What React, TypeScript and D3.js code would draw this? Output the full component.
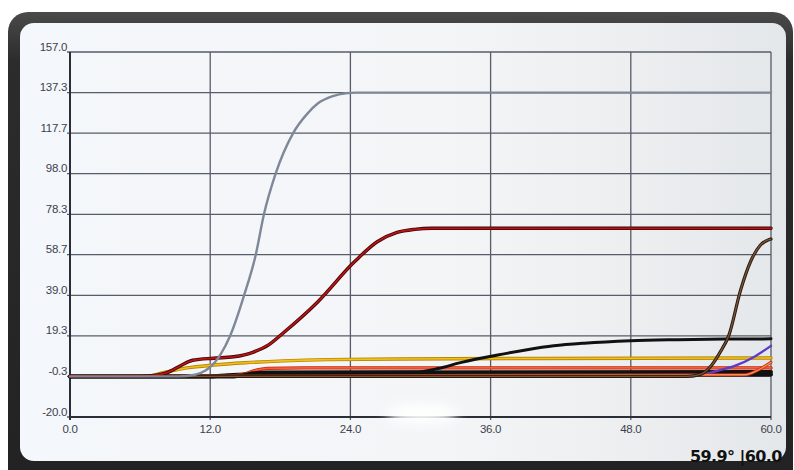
import React from "react";
import * as d3 from "d3";

const xTicks = [0, 12, 24, 36, 48, 60];
const xTickLabels = ["0.0", "12.0", "24.0", "36.0", "48.0", "60.0"];
const yTicks = [-20.0, -0.3, 19.3, 39.0, 58.7, 78.3, 98.0, 117.7, 137.3, 157.0];
const yTickLabels = ["-20.0", "-0.3", "19.3", "39.0", "58.7", "78.3", "98.0", "117.7", "137.3", "157.0"];

const graySeries: [number, number][] = [
  [0, -0.3], [9.3, -0.3], [10.7, 0.5], [11.6, 2.5], [12.4, 6.5], [12.9, 10.5], [13.7, 19.3], [14.9, 39],
  [15.9, 58.7], [16.6, 78.3], [17.6, 98], [19.1, 117.7], [20.3, 127], [21.2, 132], [22.5, 135.6],
  [23.6, 137], [24.5, 137.3], [60, 137.3],
];
const redSeries: [number, number][] = [
  [0, -0.3], [6, -0.3], [7, 0], [8.3, 1.5], [9.5, 5], [10.5, 7.5], [12.3, 8.5], [14, 9.2],
  [15.7, 11.5], [17, 15], [18.3, 21], [21.2, 35.8], [24.3, 55], [26.3, 65], [28, 69.5],
  [29.5, 71], [31, 71.5], [60, 71.5],
];
const yellowSeries: [number, number][] = [
  [0, -0.3], [6.5, -0.3], [8, 1.5], [10, 3.8], [12.3, 5.2], [15, 6.3], [18.3, 7.2], [22, 7.8],
  [28, 8.1], [40, 8.4], [60, 8.6],
];
const orangeSeries: [number, number][] = [
  [0, -0.3], [13.5, -0.3], [14.8, 0.6], [15.8, 2.5], [16.9, 3.6], [20, 3.8], [60, 3.8],
];
const blackFlatA: [number, number][] = [
  [0, -0.3], [12, -0.3], [13.5, 0.3], [15, 0.6], [60, 0.6],
];
const blackFlatB: [number, number][] = [
  [0, -0.3], [14, -0.3], [16, 1.6], [60, 1.8],
];
const blackRise: [number, number][] = [
  [0, -0.3], [14, -0.3], [16, 1.6], [29.5, 1.8], [31.5, 3.5], [33.5, 6.5], [36.6, 10.1], [39, 12.5],
  [41.4, 14.5], [44, 15.8], [48, 17], [52, 17.5], [56, 17.8], [60, 17.9],
];
const brownSeries: [number, number][] = [
  [0, -0.3], [52.8, -0.3], [54, 0.8], [54.9, 5], [55.6, 11], [56.4, 19.7], [57.4, 41.6],
  [58.3, 56], [59.1, 63.4], [59.8, 66], [60, 66.3],
];
const purpleSeries: [number, number][] = [
  [0, -0.3], [53, -0.3], [54.3, 0.8], [55.5, 2.5], [57, 5], [58.5, 9], [60, 14.5],
];
const orangeEndSeries: [number, number][] = [
  [0, -0.3], [57.8, 0.5], [58.8, 2.5], [60, 6.5],
];

const W = 794;
const H = 470;

export default function App() {
  const x = d3.scaleLinear().domain([0, 60]).range([70, 771]);
  const y = d3.scaleLinear().domain([-20, 157]).range([417, 52]);
  const line = d3
    .line<[number, number]>()
    .x((d) => x(d[0]))
    .y((d) => y(d[1]))
    .curve(d3.curveMonotoneX);

  const lines: { data: [number, number][]; under?: string; color: string; w: number; uw?: number }[] = [
    { data: blackFlatA, color: "#111", w: 4 },
    { data: blackFlatB, color: "#111", w: 4 },
    { data: orangeSeries, under: "#b82a10", color: "#ff5a30", w: 1.6, uw: 3.4 },
    { data: yellowSeries, under: "#b98600", color: "#f2c21c", w: 1.6, uw: 3.4 },
    { data: blackRise, color: "#111", w: 3 },
    { data: purpleSeries, color: "#5a3cc8", w: 2.4 },
    { data: orangeEndSeries, under: "#c03010", color: "#ff8a50", w: 1.4, uw: 3 },
    { data: brownSeries, under: "#2a180e", color: "#7a5638", w: 1.3, uw: 3.2 },
    { data: redSeries, under: "#3a0404", color: "#b81414", w: 1.8, uw: 3.4 },
    { data: graySeries, color: "#7f8899", w: 2.4 },
  ];

  const labelFont = "'Liberation Sans', Arial, sans-serif";

  return (
    <svg
      width={W}
      height={H}
      style={{ position: "absolute", left: 0, top: 0, display: "block" }}
    >
      <defs>
        <linearGradient id="screen" x1="0" y1="0" x2="1" y2="0">
          <stop offset="0" stopColor="#f4f7fb" />
          <stop offset="0.55" stopColor="#f4f5f7" />
          <stop offset="0.8" stopColor="#eceef0" />
          <stop offset="1" stopColor="#e4e7ea" />
        </linearGradient>
        <linearGradient id="frame" x1="0" y1="0" x2="0" y2="1">
          <stop offset="0" stopColor="#4a4a4a" />
          <stop offset="0.1" stopColor="#2c2c2c" />
          <stop offset="1" stopColor="#222" />
        </linearGradient>
        <filter id="blur" x="-50%" y="-50%" width="200%" height="200%">
          <feGaussianBlur stdDeviation="6" />
        </filter>
      </defs>
      <rect x={0} y={0} width={W} height={H} fill="#ffffff" />
      <rect x={8} y={12} width={785} height={480} rx={20} fill="url(#frame)" />
      <rect x={20} y={23} width={766} height={438} rx={14} fill="url(#screen)" />

      {/* grid */}
      {yTicks.map((t) => (
        <line key={"h" + t} x1={x(0) - 3} x2={x(60)} y1={y(t)} y2={y(t)} stroke="#565c68" strokeWidth={1.3} />
      ))}
      {xTicks.map((t) => (
        <line key={"v" + t} x1={x(t)} x2={x(t)} y1={y(157)} y2={y(-20) + 3} stroke="#565c68" strokeWidth={1.3} />
      ))}
      <line x1={x(0)} x2={x(0)} y1={y(157)} y2={y(-20) + 3} stroke="#2a2e36" strokeWidth={2} />
      <line x1={x(0)} x2={x(60)} y1={y(-20)} y2={y(-20)} stroke="#2a2e36" strokeWidth={2.2} />

      {/* glare */}
      <ellipse cx={422} cy={414} rx={36} ry={10} fill="#ffffff" filter="url(#blur)" />

      {/* series */}
      {lines.map((l, i) => (
        <g key={i}>
          {l.under && (
            <path d={line(l.data) || ""} fill="none" stroke={l.under} strokeWidth={l.uw} strokeLinejoin="round" strokeLinecap="round" />
          )}
          <path d={line(l.data) || ""} fill="none" stroke={l.color} strokeWidth={l.w} strokeLinejoin="round" strokeLinecap="round" />
        </g>
      ))}

      {/* y labels */}
      {yTicks.map((t, i) => (
        <text
          key={"yl" + t}
          x={x(0) - 3}
          y={y(t) - 1.5}
          textAnchor="end"
          fontFamily={labelFont}
          fontSize={11.5}
          fill="#3c424e"
          letterSpacing={-0.3}
        >
          {yTickLabels[i]}
        </text>
      ))}
      {/* x labels */}
      {xTicks.map((t, i) => (
        <text
          key={"xl" + t}
          x={x(t)}
          y={433}
          textAnchor="middle"
          fontFamily={labelFont}
          fontSize={11.5}
          fill="#3c424e"
          letterSpacing={-0.3}
        >
          {xTickLabels[i]}
        </text>
      ))}

      <text
        x={690}
        y={462}
        fontFamily="'DejaVu Sans', sans-serif"
        fontWeight="bold"
        fontSize={16}
        letterSpacing={-0.6}
        fill="#111"
      >
        59.9° |60.0
      </text>
    </svg>
  );
}
